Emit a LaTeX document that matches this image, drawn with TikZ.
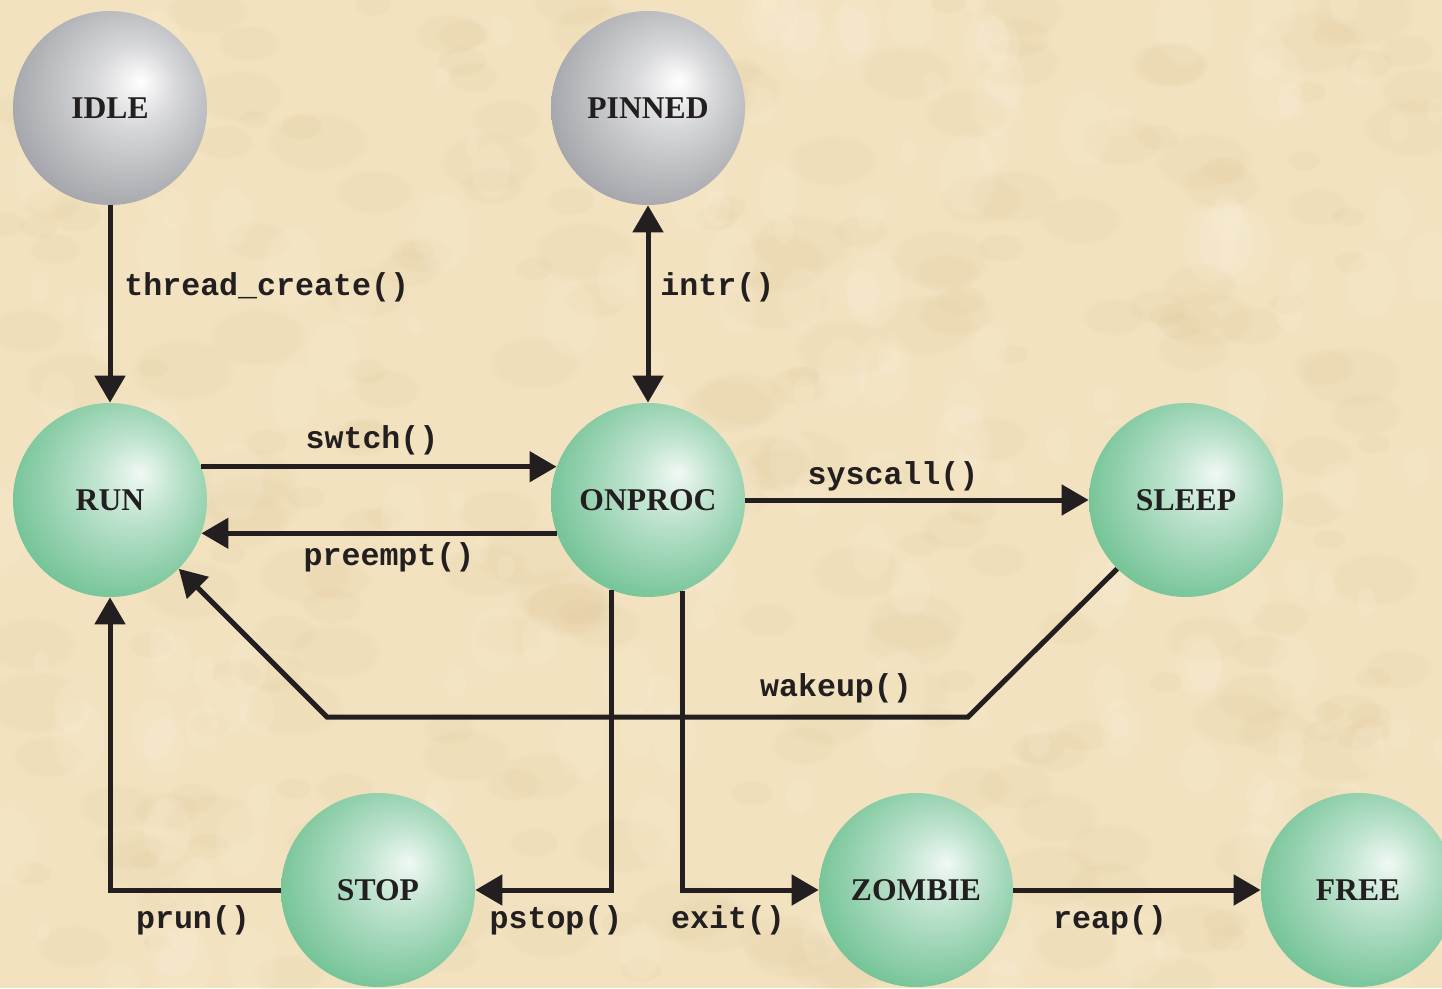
\documentclass[tikz,border=0pt]{standalone}
\usepackage{fontspec}
\setmainfont{Liberation Serif}
\setmonofont{Liberation Mono}
\usetikzlibrary{positioning,arrows.meta,calc,fadings}

\definecolor{parch}{RGB}{242,226,192}
\definecolor{parchdk}{RGB}{218,190,140}
\definecolor{parchlt}{RGB}{252,243,222}
\definecolor{ink}{RGB}{35,31,32}
\definecolor{grn}{RGB}{76,178,120}
\definecolor{gry}{RGB}{128,130,137}

% ball shadings, highlight a little up and right
\pgfdeclareradialshading{greenball}{\pgfpoint{8bp}{7bp}}{%
  color(0bp)=(white!92!grn); color(10bp)=(grn!35!white);
  color(30bp)=(grn!78!white); color(52bp)=(grn)}
\pgfdeclareradialshading{grayball}{\pgfpoint{8bp}{7bp}}{%
  color(0bp)=(white); color(10bp)=(gry!30!white);
  color(30bp)=(gry!72!white); color(52bp)=(gry)}

\begin{document}
\begin{tikzpicture}[
  state/.style={circle, minimum size=3.88cm, inner sep=0pt, shade,
                font=\fontsize{18}{20}\selectfont\bfseries, text=ink},
  live/.style={state, shading=greenball},
  dead/.style={state, shading=grayball},
  trans/.style={-{Triangle[length=5.4mm,width=6mm]}, line width=1mm, draw=ink},
  both/.style={trans, {Triangle[length=5.4mm,width=6mm]}-{Triangle[length=5.4mm,width=6mm]}},
  call/.style={font=\fontsize{18}{20}\selectfont\ttfamily\bfseries, text=ink, inner sep=0pt}
]
% paper
\clip (0,0) rectangle (28.84,19.76);
\fill[parch] (0,0) rectangle (28.84,19.76);
\pgfmathsetseed{17}
\foreach \k in {1,...,260}{
  \pgfmathsetmacro\bx{rnd*28.84}
  \pgfmathsetmacro\by{rnd*19.76}
  \pgfmathsetmacro\br{0.3+rnd*0.8}
  \fill[parchdk, opacity=0.10, path fading=circle with fuzzy edge 20 percent]
    (\bx,\by) ellipse ({\br} and {0.6*\br});
}
\foreach \k in {1,...,200}{
  \pgfmathsetmacro\bx{rnd*28.84}
  \pgfmathsetmacro\by{rnd*19.76}
  \pgfmathsetmacro\br{0.2+rnd*0.7}
  \fill[parchlt, opacity=0.16, path fading=circle with fuzzy edge 20 percent]
    (\bx,\by) ellipse ({0.7*\br} and {\br});
}

% states
\node[dead] (idle)   at (2.2,17.6)   {IDLE};
\node[dead] (pinned) at (12.96,17.6) {PINNED};
\node[live] (run)    at (2.2,9.76)   {RUN};
\node[live] (onproc) at (12.96,9.76) {ONPROC};
\node[live] (sleep)  at (23.72,9.76) {SLEEP};
\node[live] (stop)   at (7.56,1.96)  {STOP};
\node[live] (zombie) at (18.32,1.96) {ZOMBIE};
\node[live] (free)   at (27.16,1.96) {FREE};

% corners of the wakeup path
\coordinate (wakeR) at (19.36,5.42);
\coordinate (wakeL) at (6.54,5.42);

% transitions
\draw[trans] (idle) -- (run);
\draw[both] (pinned) -- (onproc);
\draw[trans] (run.20) -- (onproc.160);
\draw[trans] (onproc.200) -- (run.-20);
\draw[trans] (onproc) -- (sleep);
\draw[trans, line join=miter] (sleep.-135) -- (wakeR) -- (wakeL) -- (run.-45);
\draw[trans, line join=miter] (onproc.248) |- (stop.east);
\draw[trans, line join=miter] (onproc.291) |- (zombie.west);
\draw[trans, line join=miter] (stop.west) -| (run.south);
\draw[trans] (zombie) -- (free);

% labels
\node[call, anchor=west] (lcreate) at (2.48,14.02) {thread\_create()};
\node[call, anchor=west] (lintr)   at (13.2,14.02) {intr()};
\node[call] (lswtch)   at (7.44,10.96) {swtch()};
\node[call] (lpreempt) at (7.78,8.62)  {preempt()};
\node[call] (lsyscall) at (17.86,10.24) {syscall()};
\node[call] (lwakeup)  at (16.72,6.0)  {wakeup()};
\node[call] (lprun)    at (3.86,1.36)  {prun()};
\node[call] (lpstop)   at (11.12,1.36) {pstop()};
\node[call] (lexit)    at (14.56,1.36) {exit()};
\node[call] (lreap)    at (22.2,1.36)  {reap()};
\end{tikzpicture}
\end{document}
